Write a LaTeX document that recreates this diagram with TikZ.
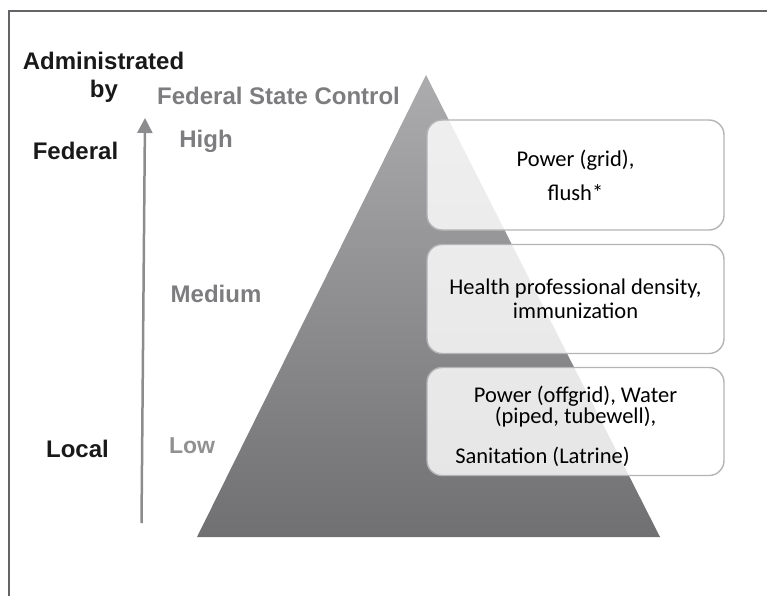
\documentclass[tikz,border=0pt]{standalone}
\usepackage{fontspec}
\setmainfont{Carlito}
\newfontfamily\arialfont{Liberation Sans}
\usetikzlibrary{arrows.meta}
\definecolor{framegray}{RGB}{100,100,102}
\definecolor{labelgray}{RGB}{125,125,127}
\definecolor{arrowgray}{RGB}{140,140,142}
\definecolor{boxline}{RGB}{180,180,182}
\definecolor{pyrtop}{RGB}{172,172,174}
\definecolor{pyrbot}{RGB}{112,112,115}
\begin{document}
\begin{tikzpicture}[x=1pt,y=-1pt,
  lab/.style={font=\arialfont\bfseries\fontsize{24}{26}\selectfont,anchor=base,inner sep=0pt,text=black!90},
  level/.style={lab,text=labelgray},
  infobox/.style={draw=boxline,line width=1.4pt,rounded corners=15pt,fill=white,fill opacity=0.82,text opacity=1,
    align=center,minimum width=297pt,font=\fontsize{22.5}{24}\selectfont,text=black}]

\useasboundingbox (0,0) rectangle (767,596);
\draw[framegray,line width=2.2pt] (9,596) -- (9,11) -- (767,11);

\coordinate (apex) at (426,75);
\coordinate (baseL) at (197,537);
\coordinate (baseR) at (660,537);
\shade[top color=pyrtop,bottom color=pyrbot] (apex) -- (baseR) -- (baseL) -- cycle;

\node[infobox,minimum height=110pt] (grid) at (575.5,175) {Power (grid),\\[10pt]flush*};
\node[infobox,minimum height=109pt] (health) at (575.5,299) {Health professional density,\\immunization};
\node[infobox,minimum height=108pt] (water) at (575.5,421.5) {\rule{0pt}{27pt}Power (offgrid), Water\\[-3pt](piped, tubewell),\\[16pt]Sanitation (Latrine)\hspace*{66pt}};

\coordinate (arrlow) at (141.5,523);
\coordinate (arrhigh) at (145,118);
\draw[-{Triangle[length=15pt,width=15pt]},arrowgray,line width=2.5pt] (arrlow) -- (arrhigh);

\node[lab] (admin) at (103.5,70) {Administrated};
\node[lab] (by) at (104,98) {by};
\node[lab] (fed) at (75.5,160) {Federal};
\node[lab] (loc) at (77.5,457) {Local};

\node[level] (control) at (278.5,105) {Federal State Control};
\node[level] (high) at (206,148) {High};
\node[level] (med) at (216,302) {Medium};
\node[level,font=\arialfont\bfseries\fontsize{23}{26}\selectfont,text=labelgray!85] (low) at (192,453) {Low};

\end{tikzpicture}
\end{document}
